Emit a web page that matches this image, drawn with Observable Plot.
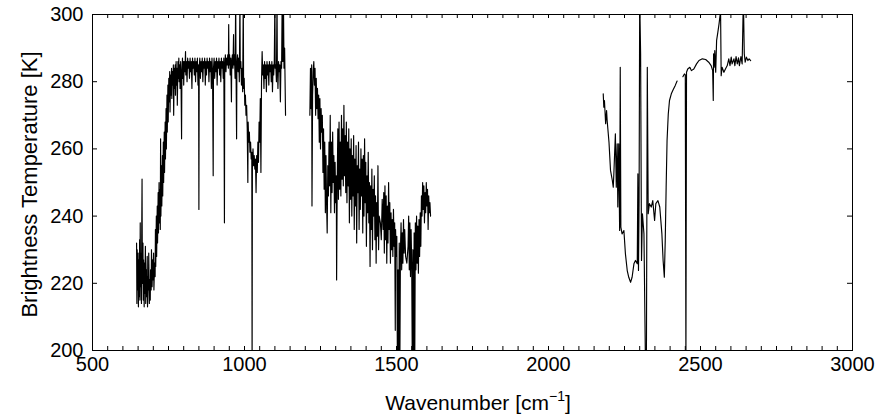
<!DOCTYPE html>
<html>
<head>
<meta charset="utf-8">
<script src="https://cdn.jsdelivr.net/npm/d3@7"></script>
<script src="https://cdn.jsdelivr.net/npm/@observablehq/plot@0.6"></script>
<style>
  html, body { margin: 0; padding: 0; background: #fff; }
</style>
</head>
<body>
<div id="chart"></div>
<script>
// Band 1: ~645–1135 cm-1
const wn1 = [645,646,647,648,650,651,652,654,655,656,657,658,659,661,662,663,664,666,667,668,670,671,672,674,675,677,678,680,681,683,684,685,687,688,690,691,693,694,696,698,699,701,702,704,706,707,708,710,711,713,714,716,717,719,720,722,723,724,725,727,728,730,731,733,734,736,737,739,740,742,743,745,746,748,749,751,752,754,755,757,758,760,761,763,764,766,767,769,770,772,773,775,776,778,779,781,782,784,785,787,788,790,791,793,794,796,797,799,800,802,804,806,807,809,811,813,815,817,819,821,823,825,827,829,831,833,835,837,839,841,843,845,847,849,850,851,853,855,857,859,861,863,865,867,869,871,873,875,877,879,881,883,885,887,889,891,893,895,897,898,900,902,904,906,908,910,912,914,916,918,920,922,924,926,928,930,932,934,935,937,939,941,943,945,947,948,949,951,953,955,957,958,960,962,964,965,967,969,971,972,974,975,977,979,981,983,985,986,988,990,992,994,996,997,999,1001,1003,1005,1007,1009,1011,1012,1014,1016,1018,1020,1022,1024,1025,1026,1028,1030,1032,1034,1036,1038,1040,1042,1044,1046,1048,1050,1052,1054,1056,1058,1060,1062,1064,1066,1068,1070,1072,1074,1076,1078,1080,1082,1084,1086,1088,1090,1092,1094,1096,1098,1100,1101,1103,1105,1107,1108,1110,1112,1114,1116,1118,1120,1122,1124,1126,1128,1130,1132,1135];
const bt1 = [232,214,230,218,229,213,227,216,233,215,238,219,229,214,236,251,220,232,215,227,213,226,217,231,214,224,216,228,213,222,218,229,214,221,215,224,218,230,219,227,221,229,218,226,222,236,225,240,228,243,232,247,235,250,238,248,236,263,240,255,243,258,246,262,250,265,253,268,257,272,260,276,265,279,268,281,274,283,271,282,276,284,275,283,279,285,270,284,278,285,276,286,279,284,273,286,281,287,280,285,278,286,283,263,282,287,281,286,279,286,283,289,282,286,280,287,284,286,281,287,283,286,278,287,284,286,282,287,280,286,283,287,279,285,242,284,287,281,286,283,287,280,286,284,287,279,286,282,287,284,286,280,287,283,286,278,287,282,252,284,287,281,286,283,287,279,286,284,287,282,286,280,287,284,286,281,287,238,284,288,283,287,285,288,284,297,285,288,282,287,274,285,288,284,294,285,288,281,305,286,263,285,288,283,287,280,305,284,286,279,284,277,305,278,281,273,276,270,273,266,250,268,262,265,259,262,257,259,195,256,260,255,258,254,257,247,258,253,262,256,268,262,275,253,280,289,282,285,278,286,281,285,277,286,282,285,279,286,283,285,280,286,277,285,282,286,305,284,285,280,305,285,278,286,283,285,274,286,284,305,286,305,284,290,270];

// Band 2: ~1215–1612 cm-1
const wn2 = [1215,1217,1219,1221,1222,1224,1226,1228,1230,1232,1234,1236,1238,1240,1242,1244,1246,1248,1250,1252,1254,1256,1258,1260,1262,1264,1266,1268,1270,1272,1274,1276,1278,1280,1282,1284,1286,1288,1290,1292,1294,1296,1298,1300,1302,1303,1305,1307,1309,1311,1313,1315,1317,1319,1321,1323,1325,1327,1329,1331,1333,1335,1337,1339,1341,1343,1345,1347,1349,1351,1353,1355,1357,1359,1361,1363,1365,1367,1369,1371,1373,1375,1377,1379,1381,1383,1385,1387,1389,1391,1393,1395,1397,1399,1401,1403,1405,1407,1409,1411,1413,1415,1417,1419,1421,1423,1425,1427,1429,1431,1433,1435,1437,1439,1441,1443,1447,1450,1453,1456,1458,1460,1462,1464,1466,1468,1470,1472,1474,1476,1478,1480,1482,1484,1486,1488,1490,1492,1494,1496,1497,1499,1501,1503,1505,1507,1509,1511,1513,1515,1517,1519,1521,1523,1525,1527,1530,1534,1538,1540,1542,1544,1546,1548,1550,1552,1554,1556,1558,1560,1562,1564,1566,1568,1570,1572,1574,1576,1578,1580,1582,1584,1586,1588,1590,1592,1594,1596,1598,1600,1602,1604,1606,1608,1610,1612];
const bt2 = [270,284,272,285,243,276,283,286,279,284,270,281,272,278,269,276,262,275,260,272,265,270,253,266,248,262,241,258,244,235,255,246,262,249,270,241,262,247,265,250,258,241,256,244,252,221,250,266,245,268,248,262,246,270,251,266,249,273,252,264,247,268,244,262,249,266,238,260,245,263,240,258,246,264,236,257,243,261,232,255,247,262,236,254,242,260,246,257,235,258,240,263,244,256,231,252,241,259,238,250,225,249,236,254,230,248,240,252,233,246,226,244,234,255,230,240,238,233,245,236,247,229,249,233,246,226,243,232,250,236,244,226,241,230,239,228,242,231,238,206,236,228,234,195,224,195,232,195,230,238,224,235,226,239,229,236,228,226,231,240,224,238,222,236,226,195,230,195,235,195,238,224,240,226,237,223,239,228,241,231,246,240,250,242,249,238,247,241,250,243,248,236,246,241,244,240];

// Band 3: ~2180–2665 cm-1 (null = gap in the record)
const wn3 = [2180,2182,2184,2188,2191,2193,2199,2204,2210,2213,2215,2220,2223,2226,2228,2231,2234,2236,2238,2242,2248,2253,2259,2264,2270,2275,2281,2286,2292,2294,2296,2298,2300,2303,2306,2309,2314,2319,2322,2325,2328,2332,2338,2343,2349,2353,2360,2366,2373,2377,2381,2384,2387,2390,2394,2398,2404,2410,2417,2423,2432,2442,2447,2450,2452,2454,2458,2465,2470,2478,2487,2495,2506,2517,2527,2535,2540,2542,2543,2545,2547,2550,2553,2557,2561,2566,2568,2571,2577,2582,2588,2593,2597,2601,2604,2610,2613,2617,2621,2625,2628,2633,2637,2641,2644,2647,2651,2656,2660,2665];
const bt3 = [276.4,272.4,274.4,267.5,271.4,268.4,262,253.6,250.6,248.6,252.6,264.5,248.6,261.5,242.7,261.5,235.7,284.3,236.7,234.7,235.7,228.8,223.8,221.8,220.3,221.8,225.8,226.8,225.8,252.6,223.8,244.6,305,288.3,226.8,240.7,234.7,195,195,284.3,240.7,243.7,242.7,244.6,238.7,243.7,244.6,242.7,234.7,226.8,221.8,232.7,248.6,262.5,270.4,274.4,276.4,277.6,278.9,280.2,null,281.5,282.3,282.0,195,282.8,283.8,284.3,283.3,283.8,285.3,286.3,286.8,286.6,285.8,284.8,283.3,274.4,288.3,284.3,289.3,282.8,292.3,294.7,297.2,301,281.8,284.3,282.8,283.8,284.8,286.8,284.8,287.3,285.3,286.8,284.8,287.5,285.3,287.1,284.8,287.5,285.3,305,288.3,285.8,287.3,286.3,286.8,286.3];

const xTickValues = [500, 1000, 1500, 2000, 2500, 3000];
const yTickValues = [200, 220, 240, 260, 280, 300];
const xMinorTicks = d3.range(500, 3001, 50);
const yInnerTicks = [220, 240, 260, 280];

const bands = [[wn1, bt1], [wn2, bt2], [wn3, bt3]];
const rows = bands.flatMap(([w, b], i) => w.map((x, j) => ({wn: x, bt: b[j], band: i})));

const chart = Plot.plot({
  width: 886,
  height: 418,
  marginLeft: 92,
  marginRight: 34,
  marginTop: 14,
  marginBottom: 68,
  style: {fontFamily: "'Liberation Sans', Arial, Helvetica, sans-serif", fontSize: "20px", color: "black", background: "white"},
  x: {domain: [500, 3000]},
  y: {domain: [200, 300]},
  marks: [
    Plot.tickX(xMinorTicks, {x: d => d, insetTop: 332, stroke: "black"}),
    Plot.tickX(xMinorTicks, {x: d => d, insetBottom: 332, stroke: "black"}),
    Plot.tickY(yInnerTicks, {y: d => d, insetRight: 755, stroke: "black"}),
    Plot.tickY(yInnerTicks, {y: d => d, insetLeft: 755, stroke: "black"}),
    Plot.line(rows, {x: "wn", y: "bt", z: "band", stroke: "black", strokeWidth: 1.15, clip: true}),
    Plot.frame({stroke: "black"}),
    Plot.axisX({ticks: xTickValues, tickSize: 0, tickPadding: 6, tickFormat: "d", label: null}),
    Plot.axisY({ticks: yTickValues, tickSize: 0, tickPadding: 9, tickFormat: "d", label: null}),
    Plot.text(["Brightness Temperature [K]"], {text: d => d, frameAnchor: "left", textAnchor: "middle", dx: -63, dy: 2, rotate: -90, fontSize: 22})
  ]
});

const svg = d3.select(chart);
const xl = svg.append("text")
  .attr("x", 478).attr("y", 410)
  .attr("text-anchor", "middle")
  .attr("font-size", 21)
  .attr("fill", "black");
xl.append("tspan").text("Wavenumber [cm");
xl.append("tspan").attr("dy", -9).attr("font-size", 14).text("\u22121");
xl.append("tspan").attr("dy", 9).text("]");

document.getElementById("chart").appendChild(chart);
</script>
</body>
</html>
